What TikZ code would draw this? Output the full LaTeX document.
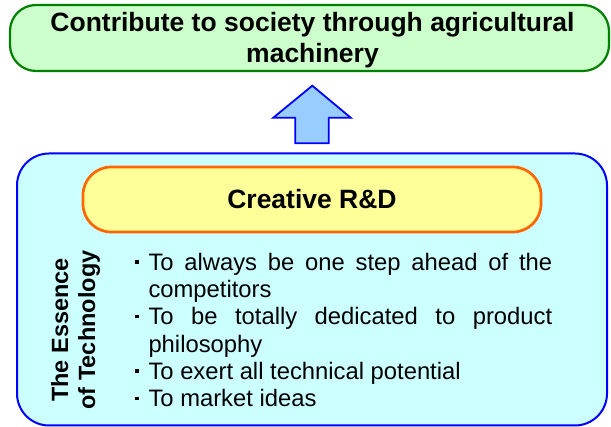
\documentclass[tikz,border=0pt]{standalone}
\usepackage{graphicx}
\usepackage{fontspec}
\setmainfont{Liberation Sans}
\definecolor{goalfill}{HTML}{CCFFCC}
\definecolor{goalline}{HTML}{008000}
\definecolor{essfill}{HTML}{CCFFFF}
\definecolor{essline}{HTML}{0000FF}
\definecolor{rdfill}{HTML}{FFFF99}
\definecolor{rdline}{HTML}{FF6600}
\definecolor{arrowfill}{HTML}{99CCFF}
\newcommand{\bsq}{\rule[6.5pt]{3.6pt}{3.6pt}}
\newcommand{\itemstart}{\hangindent=13.3pt\hangafter=1 \noindent\makebox[13.3pt][l]{\bsq}}
\tikzset{
  panel/.style={draw, inner sep=0pt, outer sep=0pt},
  goalbox/.style={panel, draw=goalline, fill=goalfill, line width=2.2pt, rounded corners=26pt},
  essbox/.style={panel, draw=essline, fill=essfill, line width=2pt, rounded corners=32pt},
  rdbox/.style={panel, draw=rdline, fill=rdfill, line width=2.7pt, rounded corners=28pt},
  bigbold/.style={inner sep=0pt, font=\bfseries\fontsize{26.5}{31}\selectfont},
  upmark/.style={draw=essline, fill=arrowfill, line width=1.8pt, line join=miter},
}
\begin{document}
\begin{tikzpicture}[x=1pt,y=-1pt]
\useasboundingbox (0,0) rectangle (611,427);
% goal box
\node[goalbox, minimum width=599pt, minimum height=66pt] (goal) at (309.5,38) {};
\node[bigbold, anchor=north, align=center] (goaltext) at (312.5,9.3)
  {\strut Contribute to society through agricultural\\machinery};
% essence box
\node[essbox, minimum width=590pt, minimum height=272pt] (ess) at (312,289.5) {};
\node[rdbox, minimum width=458pt, minimum height=65pt] (rd) at (312,199.5) {};
\node[bigbold, anchor=base] (rdtext) at (312,209) {Creative R\&D};
% upward block arrow
\coordinate (tip) at (312.3,85.7);
\draw[upmark] (tip) -- (350.7,117.7) -- (328.7,117.7) -- (328.7,143.3)
  -- (295.3,143.3) -- (295.3,117.7) -- (273.3,117.7) -- cycle;
% rotated label
\node[rotate=90, anchor=north, inner sep=0pt] (esstext) at (49.1,330)
  {\fontsize{23.5}{27}\selectfont\bfseries
   \begin{tabular}{@{}c@{}}The Essence\\of Technology\end{tabular}};
% bullet list
\node[anchor=north west, inner sep=0pt] (items) at (135,250.9)
  {\parbox[t]{417pt}{\fontsize{23.8}{27.3}\selectfont
   \parindent=0pt\parskip=0pt
   \itemstart\strut To always be one step ahead of the\linebreak competitors\par
   \itemstart To be totally dedicated to product\linebreak philosophy\par
   \itemstart To exert all technical potential\par
   \itemstart To market ideas}};
\end{tikzpicture}
\end{document}
